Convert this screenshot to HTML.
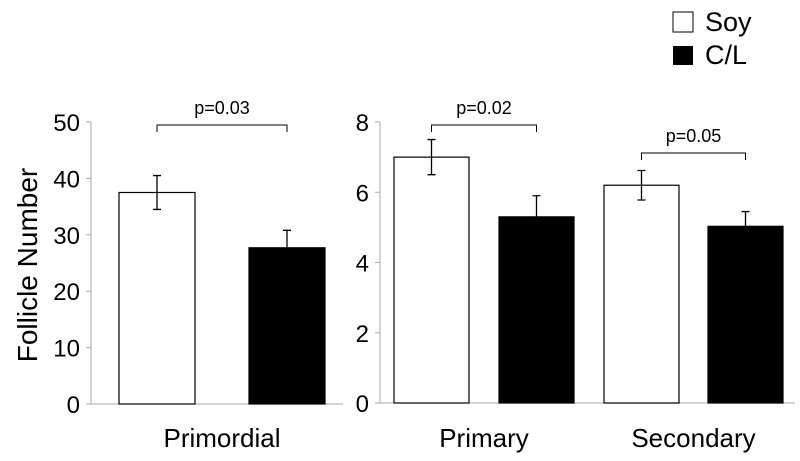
<!DOCTYPE html>
<html><head><meta charset="utf-8"><style>
body{margin:0;background:#fff}
svg{display:block;font-family:"Liberation Sans",Arial,sans-serif}
</style></head><body>
<svg id="chart" width="800" height="461" viewBox="0 0 800 461">
<g id="legend">
 <rect x="673" y="12" width="20" height="20" fill="#fff" stroke="#000" stroke-width="1"/>
 <text x="705" y="31" font-size="27">Soy</text>
 <rect x="673" y="46" width="20" height="19" fill="#000"/>
 <text x="705" y="64" font-size="27">C/L</text>
</g>
<text transform="translate(37,265) rotate(-90)" text-anchor="middle" font-size="28">Follicle Number</text>
</svg>
<script>
const leftTicks=[0,10,20,30,40,50];
const rightTicks=[0,2,4,6,8];
const leftCategories=["Primordial"];
const rightCategories=["Primary","Secondary"];
const leftSoy=[37.5];const leftSoyErr=[3.0];
const leftCL=[27.7];const leftCLErr=[3.1];
const rightSoy=[7.0,6.2];const rightSoyErr=[0.5,0.42];
const rightCL=[5.3,5.03];const rightCLErr=[0.6,0.42];
const leftP=["p=0.03"];const rightP=["p=0.02","p=0.05"];

const svg=document.getElementById('chart');
const NS="http://www.w3.org/2000/svg";
function mk(t,a,txt){const e=document.createElementNS(NS,t);for(const k in a)e.setAttribute(k,a[k]);if(txt!==undefined)e.textContent=txt;svg.appendChild(e);return e;}

function panel(cfg){
 const y=v=>cfg.y0-(v/cfg.max)*(cfg.y0-cfg.yTop);
 let e=mk('line',{x1:cfg.ax,y1:cfg.yTop,x2:cfg.ax,y2:cfg.y0,stroke:'#aaa','stroke-width':1});
 
 
 e=mk('line',{x1:cfg.ax-5,y1:cfg.y0,x2:cfg.axEnd,y2:cfg.y0,stroke:'#aaa','stroke-width':1});
 
 
 cfg.ticks.forEach(t=>{
  let l=mk('line',{x1:cfg.ax-5,y1:y(t),x2:cfg.ax,y2:y(t),stroke:'#aaa','stroke-width':1});
  
  
  let tx=mk('text',{x:cfg.ax-11,y:y(t)+9,'text-anchor':'end','font-size':24},String(t));
  
  
 });
 cfg.cats.forEach((c,i)=>{
  const g=cfg.groups[i];
  const bars=[[cfg.soy[i],cfg.soyErr[i],g.sx,'#fff','soy'],[cfg.cl[i],cfg.clErr[i],g.cx,'#000','cl']];
  bars.forEach(b=>{
   const top=y(b[0]);
   let r=mk('rect',{x:b[2],y:top,width:cfg.bw,height:cfg.y0-top,fill:b[3],stroke:'#000','stroke-width':1.2});
   
   
   const cx=b[2]+cfg.bw/2,hi=y(b[0]+b[1]),lo=y(b[0]-b[1]);
   let el=mk('path',{d:`M${cx},${hi}V${lo}M${cx-4},${hi}H${cx+4}M${cx-4},${lo}H${cx+4}`,stroke:'#000','stroke-width':1.3,fill:'none'});
   
   
  });
  const x1=g.sx+cfg.bw/2,x2=g.cx+cfg.bw/2;
  let br=mk('path',{d:`M${x1},${g.by+7}V${g.by}H${x2}V${g.by+7}`,stroke:'#000','stroke-width':1,fill:'none'});
  
  
  let pt=mk('text',{x:(x1+x2)/2,y:g.by-11,'text-anchor':'middle','font-size':18},cfg.p[i]);
  
  
  let cl=mk('text',{x:(g.sx+g.cx+cfg.bw)/2,y:447,'text-anchor':'middle','font-size':26},c);
  
  
 });
}
panel({id:'left-panel',ax:91,axEnd:343,y0:404,yTop:122,max:50,ticks:leftTicks,cats:leftCategories,bw:76,
 groups:[{sx:119,cx:249,by:125}],soy:leftSoy,soyErr:leftSoyErr,cl:leftCL,clErr:leftCLErr,p:leftP});
panel({id:'right-panel',ax:380,axEnd:795,y0:403,yTop:122,max:8,ticks:rightTicks,cats:rightCategories,bw:75,
 groups:[{sx:394,cx:499,by:125},{sx:604,cx:708,by:153}],soy:rightSoy,soyErr:rightSoyErr,cl:rightCL,clErr:rightCLErr,p:rightP});
</script>
</body></html>
